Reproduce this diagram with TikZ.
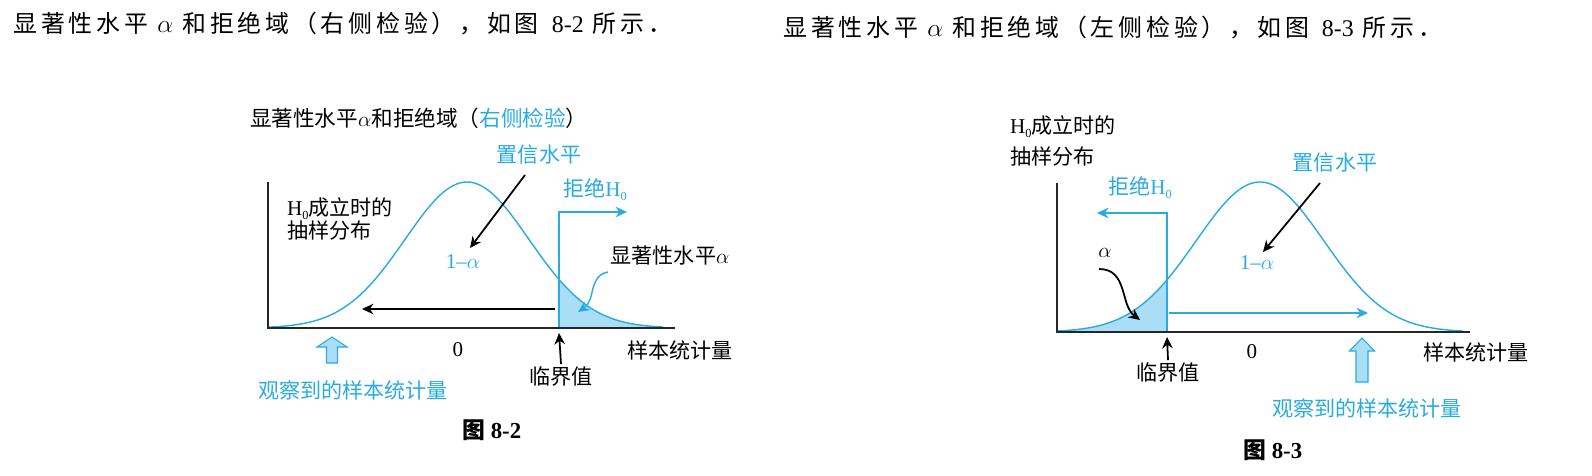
\documentclass[tikz,border=0pt]{standalone}
\usepackage{fontspec}
\setmainfont{Liberation Serif}
\newfontfamily\cjk{Noto Sans CJK SC}
\usetikzlibrary{arrows.meta,calc}
\definecolor{cy}{RGB}{41,171,226}
\definecolor{cyfill}{RGB}{170,222,246}
\newcommand\Hnull{\textrm{H}\raisebox{-0.35ex}{\textrm{\scriptsize 0}}}

\begin{document}
\begin{tikzpicture}[
    x=0.02cm, y=-0.02cm,
    declare function={bellL(\x)=328-146*exp(-((\x-467)/62)^2/2);
                      bellR(\x)=332-150*exp(-((\x-1260)/64)^2/2);},
    head/.style={font=\fontsize{13.6}{16}\selectfont\cjk\addfontfeature{LetterSpace=16}, anchor=west, inner sep=0pt},
    lbl/.style={font=\fontsize{12}{13}\selectfont\cjk, inner sep=1pt},
    bluelbl/.style={lbl, text=cy},
    figcap/.style={font=\fontsize{13}{15}\selectfont\cjk\bfseries, inner sep=1pt},
    axis/.style={line width=1.1pt, black!85},
    bell/.style={cy, line width=0.8pt},
    arr/.style={-{Stealth[length=6.5pt,width=6pt]}, line width=1pt},
    bluearr/.style={arr, cy, line width=0.8pt},
    fatup/.style={draw=cy, fill=cyfill, line width=0.6pt}
  ]
  \useasboundingbox (0,0) rectangle (1592,476);

  % headlines
  \node[head] (headL) at (13,24) {显著性水平~$\alpha$~和拒绝域（右侧检验），如图 \textrm{8-2} 所示．};
  \node[head] (headR) at (783,28) {显著性水平~$\alpha$~和拒绝域（左侧检验），如图 \textrm{8-3} 所示．};

  % ---- figure 8-2 (right tail)
  \fill[cyfill] (559,328) -- plot[domain=559:663, samples=40] (\x,{bellL(\x)}) -- (663,328) -- cycle;
  \draw[bell] plot[domain=268:663, samples=120] (\x,{bellL(\x)});
  \coordinate (originL) at (268,328);
  \coordinate (critBaseL) at (559,328);
  \coordinate (rejTipL) at (627,212);
  \draw[bluearr] (critBaseL) |- (rejTipL);
  \draw[axis] (268,182) -- (originL) -- (675,328);

  \node[lbl, anchor=west, font=\fontsize{12.3}{13}\selectfont\cjk] (titleL) at (248,118) {显著性水平$\alpha$和拒绝域（\textcolor{cy}{右侧检验}）};
  \node[lbl, anchor=west, align=left] (distL) at (285,219) {\Hnull 成立时的\\抽样分布};
  \node[bluelbl] (confL) at (539,155) {置信水平};
  \node[bluelbl] (oneL) at (463,262) {\textrm{1--}$\alpha$};
  \node[bluelbl] (rejL) at (595,190) {拒绝\Hnull};
  \node[lbl] (sigL) at (670,255) {显著性水平$\alpha$};
  \node[lbl] (zeroL) at (458,350) {\textrm{0}};
  \node[lbl] (critL) at (561,376) {临界值};
  \node[lbl] (statL) at (680,350) {样本统计量};
  \node[bluelbl] (obsL) at (353,390) {观察到的样本统计量};
  \node[figcap] (figL) at (492,430) {图 \textrm{8-2}};

  \coordinate (confTailL) at (525,175);
  \coordinate (oneTipL) at (470,248);
  \draw[arr] (confTailL) -- (oneTipL);
  \coordinate (sigTailL) at (608,272);
  \coordinate (sigTipL) at (578,312);
  \draw[bluearr] (sigTailL) .. controls (588,276) and (596,300) .. (sigTipL);
  \coordinate (accStartL) at (555,309);
  \coordinate (accTipL) at (362,309);
  \draw[arr] (accStartL) -- (accTipL);
  \coordinate (critTipL) at (559,333);
  \draw[arr] (critL.north) -- (critTipL);
  \draw[fatup] (332,337) -- (347,347) -- (337.5,347) -- (337.5,363) -- (326.5,363) -- (326.5,347) -- (317,347) -- cycle;

  % ---- figure 8-3 (left tail)
  \fill[cyfill] (1057,332) -- plot[domain=1057:1167, samples=40] (\x,{bellR(\x)}) -- (1167,332) -- cycle;
  \draw[bell] plot[domain=1057:1463, samples=120] (\x,{bellR(\x)});
  \coordinate (originR) at (1057,332);
  \coordinate (critBaseR) at (1167,332);
  \coordinate (rejTipR) at (1097,213);
  \draw[bluearr] (critBaseR) |- (rejTipR);
  \draw[axis] (1057,183) -- (originR) -- (1470,332);

  \node[lbl, anchor=west, align=left] (distR) at (1008,141) {\Hnull 成立时的\\[5pt]抽样分布};
  \node[bluelbl] (rejR) at (1140,188) {拒绝\Hnull};
  \node[bluelbl] (confR) at (1335,163) {置信水平};
  \node[bluelbl] (oneR) at (1257,263) {\textrm{1--}$\alpha$};
  \node[lbl] (alphaR) at (1105,253) {$\alpha$};
  \node[lbl] (critR) at (1168,372) {临界值};
  \node[lbl] (zeroR) at (1252,352) {\textrm{0}};
  \node[lbl] (statR) at (1476,352) {样本统计量};
  \node[bluelbl] (obsR) at (1367,408) {观察到的样本统计量};
  \node[figcap] (figR) at (1273,450) {图 \textrm{8-3}};

  \coordinate (confTailR) at (1320,183);
  \coordinate (oneTipR) at (1263,252);
  \draw[arr] (confTailR) -- (oneTipR);
  \coordinate (alphaTailR) at (1099,269);
  \coordinate (alphaTipR) at (1140,320);
  \draw[arr] (alphaTailR) .. controls (1128,269) and (1120,305) .. (alphaTipR);
  \coordinate (accStartR) at (1169,313);
  \coordinate (accTipR) at (1368,313);
  \draw[bluearr] (accStartR) -- (accTipR);
  \coordinate (critTipR) at (1167,337);
  \draw[arr] (critR.north) -- (critTipR);
  \draw[fatup] (1362,338) -- (1374.5,351) -- (1368,351) -- (1368,382) -- (1356,382) -- (1356,351) -- (1349.5,351) -- cycle;
\end{tikzpicture}
\end{document}
